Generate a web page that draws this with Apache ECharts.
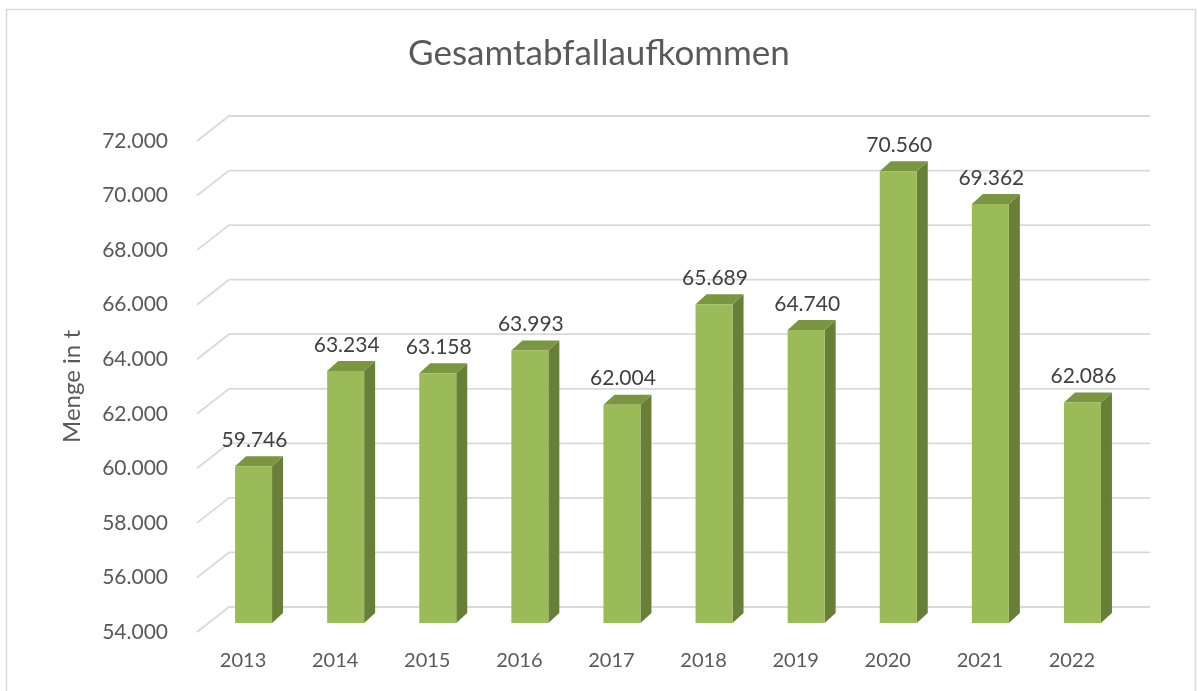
<!DOCTYPE html>
<html>
<head>
<meta charset="utf-8">
<script src="https://cdn.jsdelivr.net/npm/echarts@6/dist/echarts.min.js"></script>
<style>
  html, body { margin: 0; padding: 0; background: #fff; }
  #chart { width: 1198px; height: 691px; }
</style>
</head>
<body>
<div id="chart"></div>
<script>
    // Daten
    const years = ['2013', '2014', '2015', '2016', '2017', '2018', '2019', '2020', '2021', '2022'];
    const mengen = [59746, 63234, 63158, 63993, 62004, 65689, 64740, 70560, 69362, 62086];
    const yTicks = [54000, 56000, 58000, 60000, 62000, 64000, 66000, 68000, 70000, 72000];

    const FONT = 'Lato, "Liberation Sans", sans-serif';
    const TEXT = '#595959';

    // Tausenderpunkt wie im Original
    function fmt(v) {
        return String(v).replace(/\B(?=(\d{3})+(?!\d))/g, '.');
    }

    let myChart = echarts.init(document.getElementById('chart'));

    myChart.setOption({
        animation: false,
        title: {
            text: 'Gesamtabfallaufkommen',
            left: 'center',
            top: 31,
            textStyle: { fontFamily: FONT, fontSize: 35, fontWeight: 'normal', color: TEXT }
        },
        graphic: [{
            type: 'rect',
            shape: { x: 6.5, y: 9.5, width: 1189, height: 700 },
            style: { fill: null, stroke: '#d9d9d9', lineWidth: 1.5 },
            silent: true
        }],
        grid: { left: 197, right: 80, top: 141, bottom: 59 },
        xAxis: {
            type: 'category',
            data: years,
            axisLine: { show: false },
            axisTick: { show: false },
            axisLabel: { margin: 19, fontFamily: FONT, fontSize: 20, color: TEXT }
        },
        yAxis: {
            type: 'value',
            min: 54000,
            max: 72000,
            interval: 2000,
            name: 'Menge in t',
            nameLocation: 'middle',
            nameRotate: 90,
            nameGap: 113,
            nameTextStyle: { fontFamily: FONT, fontSize: 24, color: TEXT },
            splitLine: { show: false },
            axisLine: { show: false },
            axisTick: { show: false },
            axisLabel: { margin: 29, fontFamily: FONT, fontSize: 21, color: TEXT, formatter: fmt }
        },
        series: [
            {
                // Gitterlinien mit perspektivischem Knick links
                type: 'custom',
                silent: true,
                z: 1,
                data: yTicks,
                encode: { y: 0 },
                renderItem: function (params, api) {
                    const cs = params.coordSys;
                    const y = api.coord([0, api.value(0)])[1];
                    return {
                        type: 'polyline',
                        shape: {
                            points: [
                                [cs.x, y],
                                [cs.x + 32, y - 25],
                                [cs.x + cs.width + 32, y - 25]
                            ]
                        },
                        style: { fill: null, stroke: '#d9d9d9', lineWidth: 1.8 }
                    };
                }
            },
            {
                // 3D-Säulen
                type: 'custom',
                z: 2,
                data: mengen.map(function (v, i) { return [i, v]; }),
                encode: { x: 0, y: 1 },
                renderItem: function (params, api) {
                    const i = api.value(0);
                    const v = api.value(1);
                    const top = api.coord([i, v]);
                    const bot = api.coord([i, 54000]);
                    const w = 37, dx = 11, dy = 10;
                    const x0 = top[0] + 10.5 - w / 2;
                    const x1 = x0 + w;
                    const yt = top[1] - 9;
                    const yb = bot[1] - 9;
                    return {
                        type: 'group',
                        children: [
                            {
                                type: 'polygon',
                                shape: { points: [[x1, yt], [x1 + dx, yt - dy], [x1 + dx, yb - dy], [x1, yb]] },
                                style: { fill: '#677F36' }
                            },
                            {
                                type: 'polygon',
                                shape: { points: [[x0, yt], [x0 + dx, yt - dy], [x1 + dx, yt - dy], [x1, yt]] },
                                style: { fill: '#7A9641' }
                            },
                            {
                                type: 'rect',
                                shape: { x: x0, y: yt, width: w, height: yb - yt },
                                style: { fill: '#9BBB59' }
                            },
                            {
                                type: 'text',
                                x: (x0 + x1) / 2 + 1,
                                y: yt - dy - 16,
                                style: {
                                    text: fmt(v),
                                    fontFamily: FONT,
                                    fontSize: 21,
                                    fill: '#404040',
                                    align: 'center',
                                    verticalAlign: 'middle'
                                }
                            }
                        ]
                    };
                }
            }
        ]
    });
</script>
</body>
</html>
